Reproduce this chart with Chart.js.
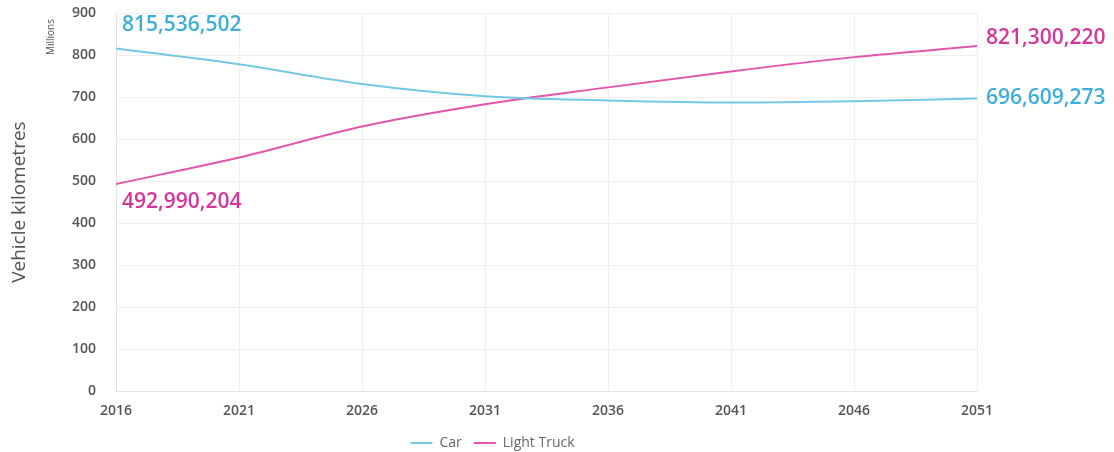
<!DOCTYPE html>
<html>
<head>
<meta charset="utf-8">
<script src="https://cdn.jsdelivr.net/npm/chart.js@4/dist/chart.umd.min.js"></script>
<style>
  html, body { margin: 0; padding: 0; background: #fff; }
  #wrap { width: 1114px; height: 452px; }
</style>
</head>
<body>
<div id="wrap"><canvas id="vktChart"></canvas></div>
<script>
// values in millions of vehicle kilometres
var years = [2016, 2021, 2026, 2031, 2036, 2041, 2046, 2051];
var carVkt = [815.536502, 778, 731, 702, 692, 687, 690, 696.609273];
var truckVkt = [492.990204, 556, 630, 683, 723, 761, 795, 821.300220];
var yTicks = [0, 100, 200, 300, 400, 500, 600, 700, 800, 900];
var endLabels = {
  car: ['815,536,502', '696,609,273'],
  truck: ['492,990,204', '821,300,220']
};

var carLine = '#74c8e2', carText = '#3daedc';
var truckLine = '#e256ab', truckText = '#d6369b';

function toXY(xs, ys) {
  return xs.map(function (x, i) { return { x: x, y: ys[i] }; });
}

/* labels at both ends + "Millions" note
---------------------------- */
var labelPlugin = {
  id: 'endLabels',
  afterDatasetsDraw: function (chart) {
    var ctx = chart.ctx;
    var car = chart.getDatasetMeta(0).data;
    var truck = chart.getDatasetMeta(1).data;
    ctx.save();
    ctx.font = '600 21px "Open Sans"';
    ctx.textBaseline = 'middle';
    ctx.textAlign = 'left';
    ctx.fillStyle = carText;
    ctx.fillText(endLabels.car[0], car[0].x + 6, car[0].y - 23);
    ctx.fillText(endLabels.car[1], car[car.length - 1].x + 9, car[car.length - 1].y);
    ctx.fillStyle = truckText;
    ctx.fillText(endLabels.truck[0], truck[0].x + 6, truck[0].y + 18);
    ctx.fillText(endLabels.truck[1], truck[truck.length - 1].x + 9, truck[truck.length - 1].y - 8);

    // small "Millions" note next to the y ticks
    ctx.translate(51, 37);
    ctx.rotate(-Math.PI / 2);
    ctx.textAlign = 'center';
    ctx.font = '10px "Open Sans"';
    ctx.fillStyle = '#555';
    ctx.fillText('Millions', 0, 0);
    ctx.restore();
  }
};

var ctx = document.getElementById('vktChart');
var vktChart = new Chart(ctx, {
  type: 'line',
  data: {
    datasets: [{
      label: 'Car',
      data: toXY(years, carVkt),
      borderColor: carLine,
      backgroundColor: carLine,
      borderWidth: 2,
      pointRadius: 0,
      cubicInterpolationMode: 'monotone'
    }, {
      label: 'Light Truck',
      data: toXY(years, truckVkt),
      borderColor: truckLine,
      backgroundColor: truckLine,
      borderWidth: 2,
      pointRadius: 0,
      cubicInterpolationMode: 'monotone'
    }]
  },
  plugins: [labelPlugin],
  options: {
    responsive: true,
    maintainAspectRatio: false,
    animation: false,
    layout: { padding: { left: 8, right: 137, top: 0, bottom: -8 } },
    plugins: {
      tooltip: { enabled: false },
      legend: {
        position: 'bottom',
        labels: {
          usePointStyle: true,
          pointStyle: 'line',
          pointStyleWidth: 22,
          boxHeight: 2,
          padding: 12,
          color: '#666',
          font: { family: '"Open Sans"', size: 14 }
        }
      }
    },
    scales: {
      x: {
        type: 'linear',
        min: 2016,
        max: 2051,
        afterBuildTicks: function (scale) {
          scale.ticks = years.map(function (v) { return { value: v }; });
        },
        afterFit: function (scale) { scale.height = scale.height - 6; },
        grid: { color: '#efefef', drawTicks: false },
        border: { color: '#e2e2e2' },
        ticks: {
          padding: 11,
          color: '#555',
          font: { family: '"Open Sans"', size: 14, weight: '600' },
          callback: function (v) { return String(v); }
        }
      },
      y: {
        min: 0,
        max: 900,
        afterBuildTicks: function (scale) {
          scale.ticks = yTicks.map(function (v) { return { value: v }; });
        },
        afterFit: function (scale) {
          scale.width = 108;
          scale.paddingTop = 13;
          scale.paddingBottom = 8;
        },
        grid: { color: '#efefef', drawTicks: false },
        border: { color: '#e2e2e2' },
        title: {
          display: true,
          text: 'Vehicle kilometres',
          color: '#555',
          font: { family: '"Open Sans"', size: 19 },
          padding: { bottom: 0, top: 0 }
        },
        ticks: {
          padding: 20,
          color: '#555',
          font: { family: '"Open Sans"', size: 14, weight: '600' }
        }
      }
    }
  }
});
</script>
</body>
</html>
